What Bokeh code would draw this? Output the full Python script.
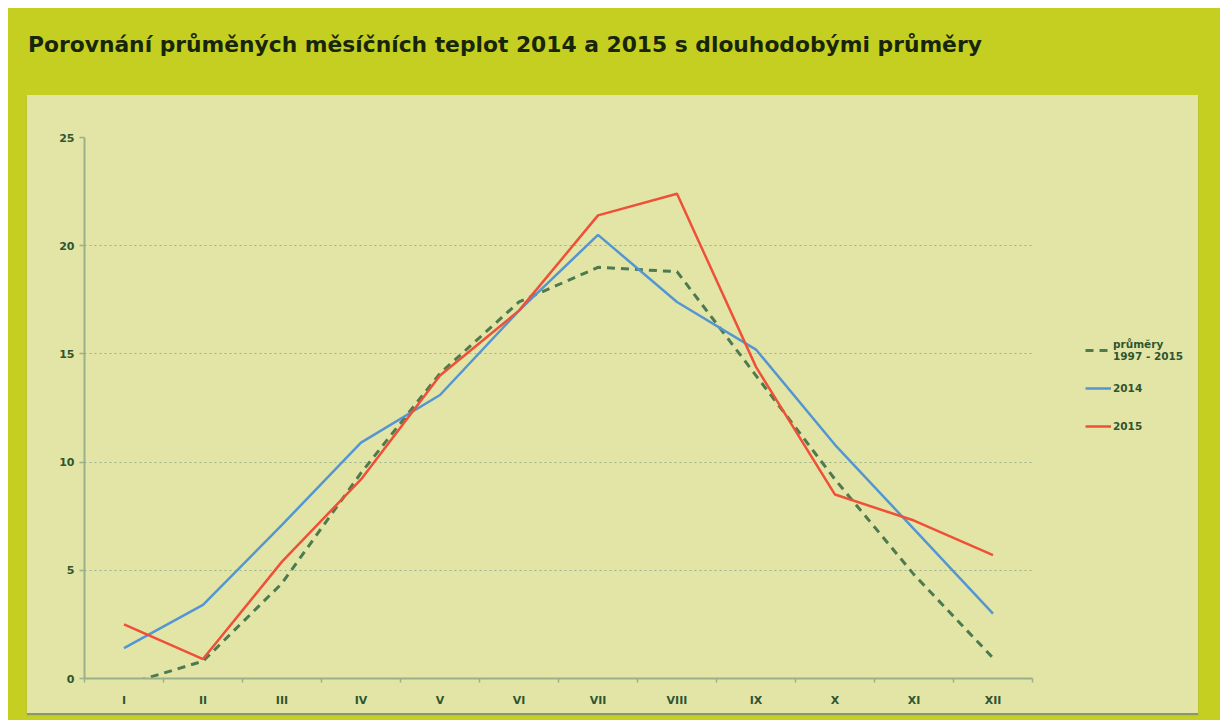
from bokeh.plotting import figure
from bokeh.models import Div, Legend, LegendItem, FixedTicker
from bokeh.layouts import column
from bokeh.embed import file_html
from bokeh.resources import INLINE

title_text = "Porovnání průměných měsíčních teplot 2014 a 2015 s dlouhodobými průměry"
months = ["I", "II", "III", "IV", "V", "VI", "VII", "VIII", "IX", "X", "XI", "XII"]
avg_1997_2015 = [-0.3, 0.8, 4.4, 9.5, 14.1, 17.4, 19.0, 18.8, 14.0, 9.2, 4.8, 0.95]
t2014 = [1.4, 3.4, 7.1, 10.9, 13.1, 17.0, 20.5, 17.4, 15.2, 10.8, 6.9, 3.0]
t2015 = [2.5, 0.9, 5.4, 9.2, 14.0, 17.0, 21.4, 22.4, 14.4, 8.5, 7.3, 5.7]
y_ticks = [0, 5, 10, 15, 20, 25]
legend_labels = ["průměry\n1997 - 2015", "2014", "2015"]

LIME = "#C4CF22"
PANEL = "#E3E5A7"
TXT = "#2F5530"
AXIS = "#9AB08A"

x = list(range(1, len(months) + 1))
centers = x
bounds = [i + 0.5 for i in range(0, len(months) + 1)]
x_lo, x_hi = bounds[0], bounds[-1]

title_div = Div(
    text=title_text, width=1212, height=87, margin=0,
    styles={"font-family": "DejaVu Sans", "font-weight": "bold", "font-size": "21.8px",
            "color": "#17260A", "padding-left": "20px", "padding-top": "21px",
            "box-sizing": "border-box"},
)

# frame extends to the right of the last month so the legend area is inside it
p = figure(width=1171, height=618, x_range=(x_lo, x_hi + 2.0), y_range=(0, 25),
           output_backend="svg", toolbar_location=None, title=None,
           min_border_left=57, min_border_right=8, min_border_top=42, min_border_bottom=35)
p.margin = (0, 0, 0, 19)
p.styles = {"box-shadow": "0 2px 1px #8C9470", "background-color": PANEL}
p.background_fill_alpha = 0
p.border_fill_alpha = 0
p.outline_line_color = None

r_avg = p.line(x, avg_1997_2015, line_color="#4E7A50", line_width=3, line_dash="8 6")
r_14 = p.line(x, t2014, line_color="#5496D2", line_width=2.5)
r_15 = p.line(x, t2015, line_color="#EE5038", line_width=2.5)

p.xgrid.visible = False
p.ygrid.ticker = FixedTicker(ticks=y_ticks)
p.ygrid.cross_bounds = (x_lo, x_hi)
p.ygrid.grid_line_color = AXIS
p.ygrid.grid_line_dash = "2 3"
p.ygrid.grid_line_width = 1

p.xaxis.ticker = FixedTicker(ticks=centers, minor_ticks=bounds)
p.xaxis.bounds = (x_lo, x_hi)
p.xaxis.major_label_overrides = {c: m for c, m in zip(centers, months)}
p.xaxis.major_tick_out = 0
p.xaxis.major_tick_in = 0
p.xaxis.minor_tick_out = 4
p.xaxis.minor_tick_in = 0
p.xaxis.major_label_standoff = 11

p.yaxis.ticker = FixedTicker(ticks=y_ticks)
p.yaxis.major_tick_out = 5
p.yaxis.major_tick_in = 0
p.yaxis.minor_tick_out = 0
p.yaxis.minor_tick_in = 0
p.yaxis.major_label_standoff = 5

for ax in (p.xaxis, p.yaxis):
    ax.axis_line_color = AXIS
    ax.axis_line_width = 2
    ax.major_tick_line_color = AXIS
    ax.minor_tick_line_color = AXIS
    ax.major_tick_line_width = 1.5
    ax.minor_tick_line_width = 1.5
    ax.major_label_text_font = "DejaVu Sans"
    ax.major_label_text_font_style = "bold"
    ax.major_label_text_font_size = "11px"
    ax.major_label_text_color = TXT

legend = Legend(
    items=[LegendItem(label=legend_labels[0], renderers=[r_avg]),
           LegendItem(label=legend_labels[1], renderers=[r_14]),
           LegendItem(label=legend_labels[2], renderers=[r_15])],
    location=(1001, 238), orientation="vertical",
    glyph_width=26, glyph_height=28, label_standoff=2, spacing=10,
    padding=0, margin=0,
    label_text_font="DejaVu Sans", label_text_font_style="bold",
    label_text_font_size="10.5px", label_text_color=TXT,
    background_fill_alpha=0, border_line_alpha=0,
)
p.add_layout(legend)

layout = column(title_div, p, width=1212, height=712, margin=(8, 0, 0, 8),
                styles={"background-color": LIME})

open("out.html", "w").write(file_html(layout, INLINE))
